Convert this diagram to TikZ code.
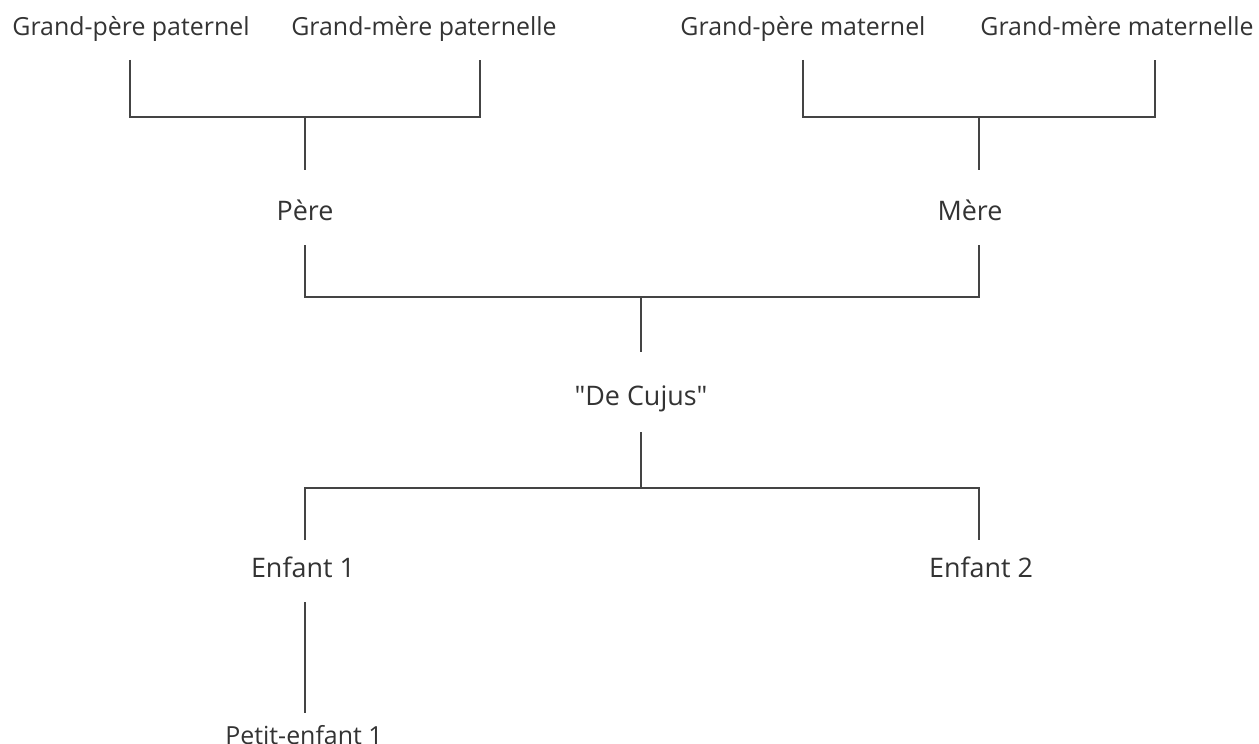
\documentclass[tikz,border=0pt]{standalone}
\usepackage{fontspec}
\setmainfont{Open Sans}[Ligatures=TeXOff]
\definecolor{txt}{HTML}{333333}
\definecolor{ln}{HTML}{444444}
\begin{document}
\begin{tikzpicture}[x=1bp,y=-1bp,
  lbl/.style={inner sep=0pt,text=txt,font=\fontsize{25}{30}\selectfont,anchor=base},
  big/.style={lbl,font=\fontsize{27}{32}\selectfont},
  conn/.style={draw=ln,line width=1.7bp}]
\useasboundingbox (0,0) rectangle (1259,744);
% labels
\node[lbl] (gpp) at (131,36) {Grand-père paternel};
\node[lbl] (gmp) at (424,36) {Grand-mère paternelle};
\node[lbl] (gpm) at (803,36) {Grand-père maternel};
\node[lbl] (gmm) at (1117,36) {Grand-mère maternelle};
\node[big] (pere) at (305,220) {Père};
\node[big] (mere) at (970,220) {Mère};
\node[big] (dc) at (641,405) {"De Cujus"};
\node[big] (e1) at (303,577) {Enfant 1};
\node[big] (e2) at (981,577) {Enfant 2};
\node[lbl] (pe1) at (304,744) {Petit-enfant 1};
% connector points
\coordinate (gppB) at (130,60);
\coordinate (gmpB) at (480,60);
\coordinate (gpmB) at (803,60);
\coordinate (gmmB) at (1155,60);
\coordinate (peretop) at (305,170);
\coordinate (meretop) at (979,170);
\coordinate (pereB) at (305,245);
\coordinate (mereB) at (979,245);
\coordinate (dctop) at (641,352);
\coordinate (dcB) at (641,432);
\coordinate (e1top) at (305,540);
\coordinate (e2top) at (979,540);
\coordinate (e1B) at (305,602);
\coordinate (pe1top) at (305,713);
% connectors
\draw[conn] (gppB) |- (gmpB |- 0,117) -- (gmpB);
\draw[conn] (305,117) -- (peretop);
\draw[conn] (gpmB) |- (gmmB |- 0,117) -- (gmmB);
\draw[conn] (979,117) -- (meretop);
\draw[conn] (pereB) |- (mereB |- 0,297) -- (mereB);
\draw[conn] (641,297) -- (dctop);
\draw[conn] (dcB) -- (641,488);
\draw[conn] (e1top) |- (e2top |- 0,488) -- (e2top);
\draw[conn] (e1B) -- (pe1top);
\end{tikzpicture}
\end{document}
